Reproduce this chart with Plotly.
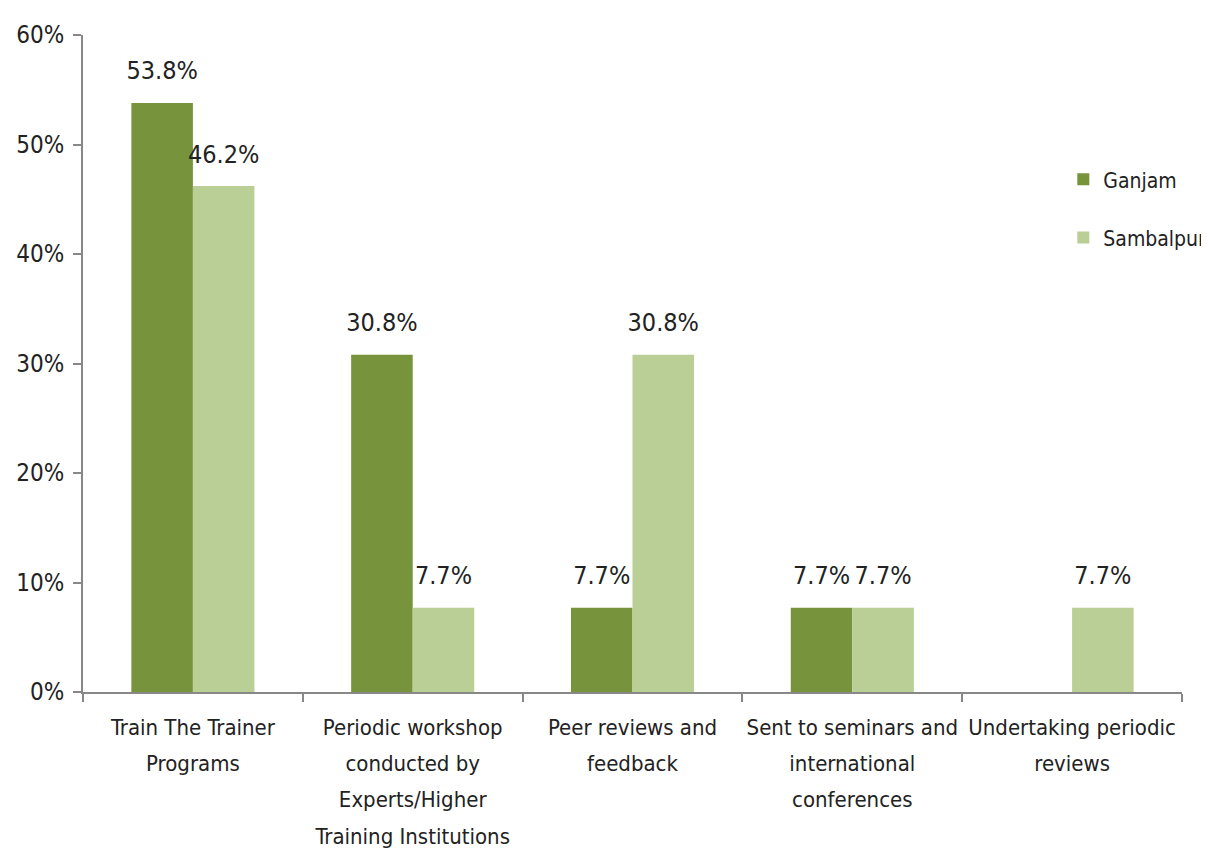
import plotly.graph_objects as go

categories = [
    "Train The Trainer<br>Programs",
    "Periodic workshop<br>conducted by<br>Experts/Higher<br>Training Institutions",
    "Peer reviews and<br>feedback",
    "Sent to seminars and<br>international<br>conferences",
    "Undertaking periodic<br>reviews",
]
ganjam = [0.538, 0.308, 0.077, 0.077, None]
sambalpur = [0.462, 0.077, 0.308, 0.077, 0.077]

FONT = "DejaVu Sans Condensed, Liberation Sans Narrow, sans-serif"
W, H = 1240, 843
GAP = 0.44

# tick text: smaller glyphs inside a larger line box for wider line spacing
ticktext = ["<br>".join(f"<span style='font-size:22px'>{ln}</span>" for ln in c.split("<br>"))
            for c in categories]

series = [("Ganjam", ganjam, "#77933C"), ("Sambalpur", sambalpur, "#B9CF95")]

fig = go.Figure()
for name, vals, col in series:
    fig.add_trace(go.Bar(
        x=categories, y=vals, name=name, legendgroup=name,
        marker=dict(color=col, line=dict(width=0)),
        cliponaxis=False,
    ))
for name, vals, col in series:
    fig.add_trace(go.Scatter(
        x=categories, y=vals, name=name, legendgroup=name, showlegend=False,
        mode="markers+text", texttemplate="%{y:.1%}", textposition="top center",
        marker=dict(size=26, color="rgba(0,0,0,0)"),
        textfont=dict(family=FONT, size=25, color="#222"),
        cliponaxis=False, hoverinfo="skip",
    ))

fig.update_layout(
    width=W, height=H,
    margin=dict(l=75, r=66, t=27, b=159),
    paper_bgcolor="white", plot_bgcolor="white",
    barmode="group", bargap=GAP, bargroupgap=0,
    scattermode="group", scattergap=GAP,
    font=dict(family=FONT, size=22, color="#222"),
    showlegend=True,
    legend=dict(x=0.892, y=0.811, xanchor="left", yanchor="top",
                font=dict(family=FONT, size=21, color="#222"),
                tracegroupgap=28, itemsizing="constant",
                bgcolor="rgba(0,0,0,0)"),
)
fig.update_xaxes(
    type="category", tickson="boundaries", automargin=False,
    tickvals=categories, ticktext=ticktext,
    showline=True, linecolor="#888", linewidth=2,
    ticks="outside", ticklen=8, tickcolor="#888", tickwidth=2,
    showgrid=False, tickangle=0, ticklabelstandoff=7,
    tickfont=dict(family=FONT, size=28, color="#222"),
)
fig.update_yaxes(
    range=[0, 0.6], dtick=0.1, tickformat=".0%", automargin=False,
    showline=True, linecolor="#888", linewidth=2,
    ticks="outside", ticklen=8, tickcolor="#888", tickwidth=2,
    showgrid=False, zeroline=False, ticklabelstandoff=4,
    tickfont=dict(family=FONT, size=24, color="#222"),
)

fig.write_html("out.html")
